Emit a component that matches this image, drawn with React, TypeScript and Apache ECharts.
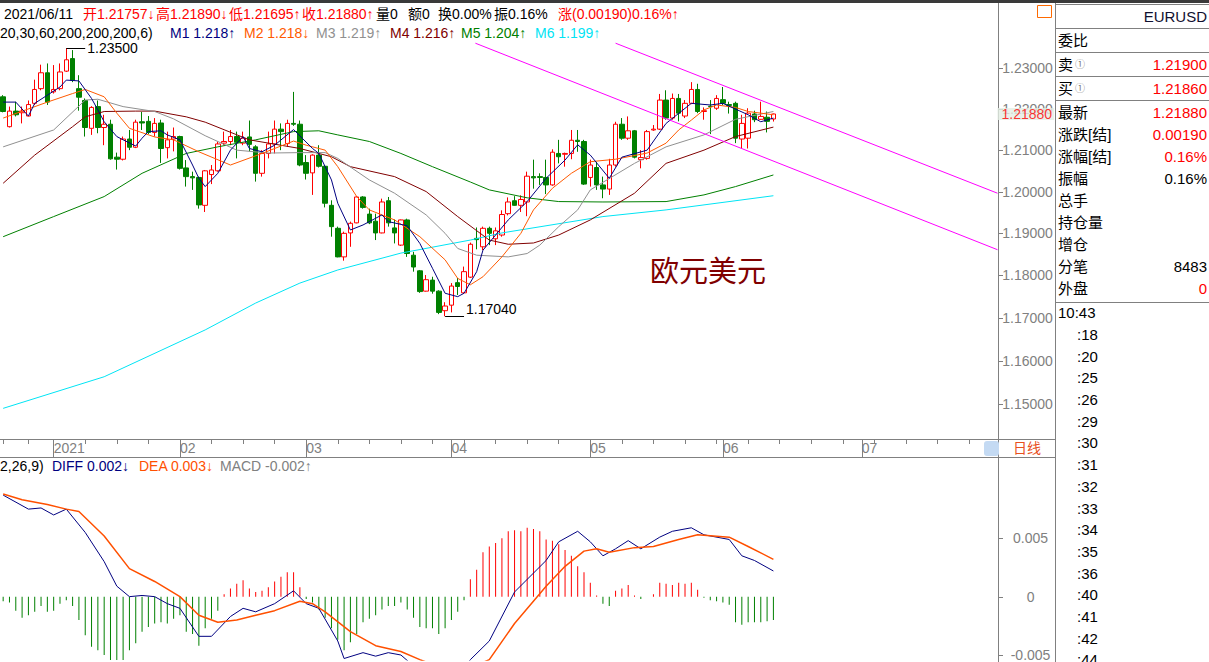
import React, { useEffect, useRef } from 'react';
import * as echarts from 'echarts';

// ---------------- DATA ----------------
// trading days per month (category axis)
const monthDays: [number, number, number[]][] = [
  [2020, 12, [21, 22, 23, 24, 28, 29, 30, 31]],
  [2021, 1, [4, 5, 6, 7, 8, 11, 12, 13, 14, 15, 18, 19, 20, 21, 22, 25, 26, 27, 28, 29]],
  [2021, 2, [1, 2, 3, 4, 5, 8, 9, 10, 11, 12, 15, 16, 17, 18, 19, 22, 23, 24, 25, 26]],
  [2021, 3, [1, 2, 3, 4, 5, 8, 9, 10, 11, 12, 15, 16, 17, 18, 19, 22, 23, 24, 25, 26, 29, 30, 31]],
  [2021, 4, [1, 2, 5, 6, 7, 8, 9, 12, 13, 14, 15, 16, 19, 20, 21, 22, 23, 26, 27, 28, 29, 30]],
  [2021, 5, [3, 4, 5, 6, 7, 10, 11, 12, 13, 14, 17, 18, 19, 20, 21, 24, 25, 26, 27, 28, 31]],
  [2021, 6, [1, 2, 3, 4, 7, 8, 9, 10, 11, 14, 15, 16, 17, 18, 21, 22, 23, 24, 25, 28, 29, 30]],
  [2021, 7, [1, 2, 5, 6, 7, 8, 9, 12, 13, 14, 15, 16, 19, 20, 21, 22, 23, 26, 27, 28, 29, 30]],
];

// [open, close, low, high]
const candles: number[][] = [
  [1.2230, 1.2194, 1.2192, 1.2234], [1.2157, 1.2195, 1.2155, 1.2206], [1.2195, 1.2186, 1.2182, 1.2218],
  [1.2191, 1.2195, 1.2165, 1.2206], [1.2183, 1.2211, 1.2182, 1.2221], [1.2214, 1.2248, 1.2210, 1.2272],
  [1.2250, 1.2289, 1.2246, 1.2309], [1.2289, 1.2217, 1.2210, 1.2312], [1.2242, 1.2248, 1.2238, 1.2308],
  [1.2250, 1.2291, 1.2246, 1.2312], [1.2293, 1.2321, 1.2291, 1.2350], [1.2324, 1.2270, 1.2266, 1.2345],
  [1.2250, 1.2229, 1.2196, 1.2283], [1.2221, 1.2155, 1.2133, 1.2226], [1.2153, 1.2204, 1.2137, 1.2207],
  [1.2206, 1.2155, 1.2141, 1.2221], [1.2155, 1.2163, 1.2112, 1.2186], [1.2163, 1.2079, 1.2077, 1.2174],
  [1.2083, 1.2078, 1.2053, 1.2094], [1.2078, 1.2127, 1.2075, 1.2133], [1.2127, 1.2107, 1.2100, 1.2149],
  [1.2107, 1.2168, 1.2105, 1.2174], [1.2169, 1.2166, 1.2149, 1.2193], [1.2170, 1.2143, 1.2139, 1.2183],
  [1.2143, 1.2165, 1.2133, 1.2178], [1.2166, 1.2104, 1.2069, 1.2174], [1.2106, 1.2125, 1.2080, 1.2145],
  [1.2127, 1.2133, 1.2097, 1.2155], [1.2133, 1.2056, 1.2053, 1.2135], [1.2057, 1.2036, 1.2012, 1.2076],
  [1.2036, 1.2033, 1.2004, 1.2048], [1.2034, 1.1968, 1.1959, 1.2036], [1.1967, 1.2050, 1.1951, 1.2052],
  [1.2041, 1.2052, 1.2018, 1.2064], [1.2050, 1.2115, 1.2048, 1.2121], [1.2117, 1.2121, 1.2112, 1.2145],
  [1.2121, 1.2133, 1.2112, 1.2149], [1.2133, 1.2119, 1.2080, 1.2145], [1.2117, 1.2129, 1.2112, 1.2145],
  [1.2132, 1.2114, 1.2097, 1.2172], [1.2108, 1.2044, 1.2024, 1.2112], [1.2044, 1.2092, 1.2036, 1.2100],
  [1.2092, 1.2115, 1.2080, 1.2145], [1.2115, 1.2151, 1.2092, 1.2172], [1.2151, 1.2145, 1.2100, 1.2165],
  [1.2116, 1.2165, 1.2108, 1.2174], [1.2165, 1.2163, 1.2159, 1.2242], [1.2163, 1.2064, 1.2061, 1.2172],
  [1.2070, 1.2044, 1.2029, 1.2088], [1.2045, 1.2088, 1.1992, 1.2090], [1.2088, 1.2061, 1.2058, 1.2112],
  [1.2061, 1.1972, 1.1962, 1.2064], [1.1967, 1.1916, 1.1892, 1.1979], [1.1912, 1.1844, 1.1843, 1.1916],
  [1.1844, 1.1900, 1.1835, 1.1904], [1.1901, 1.1924, 1.1868, 1.1928], [1.1925, 1.1987, 1.1924, 1.1989],
  [1.1987, 1.1962, 1.1959, 1.1989], [1.1946, 1.1925, 1.1922, 1.1959], [1.1929, 1.1901, 1.1884, 1.1947],
  [1.1901, 1.1975, 1.1900, 1.1983], [1.1978, 1.1925, 1.1916, 1.1987], [1.1913, 1.1901, 1.1876, 1.1933],
  [1.1872, 1.1932, 1.1870, 1.1933], [1.1932, 1.1852, 1.1844, 1.1935], [1.1848, 1.1820, 1.1809, 1.1856],
  [1.1811, 1.1762, 1.1759, 1.1813], [1.1763, 1.1790, 1.1762, 1.1801], [1.1789, 1.1763, 1.1757, 1.1797],
  [1.1763, 1.1713, 1.1709, 1.1765], [1.1717, 1.1728, 1.1704, 1.1737], [1.1730, 1.1775, 1.1713, 1.1782],
  [1.1783, 1.1774, 1.1754, 1.1794], [1.1759, 1.1809, 1.1758, 1.1821], [1.1796, 1.1874, 1.1794, 1.1878],
  [1.1888, 1.1885, 1.1862, 1.1914], [1.1868, 1.1912, 1.1860, 1.1916], [1.1912, 1.1900, 1.1872, 1.1916],
  [1.1887, 1.1906, 1.1872, 1.1914], [1.1896, 1.1945, 1.1892, 1.1955], [1.1947, 1.1975, 1.1943, 1.1986],
  [1.1978, 1.1967, 1.1966, 1.1989], [1.1967, 1.1981, 1.1951, 1.1991], [1.1975, 1.2037, 1.1941, 1.2048],
  [1.2036, 1.2033, 1.2007, 1.2077], [1.2036, 1.2034, 1.2016, 1.2044], [1.2034, 1.2016, 1.1994, 1.2077],
  [1.2016, 1.2095, 1.2014, 1.2102], [1.2092, 1.2084, 1.2068, 1.2125], [1.2090, 1.2092, 1.2060, 1.2094],
  [1.2092, 1.2124, 1.2078, 1.2149], [1.2124, 1.2121, 1.2096, 1.2149], [1.2121, 1.2018, 1.2016, 1.2125],
  [1.2034, 1.2064, 1.2012, 1.2077], [1.2058, 1.2016, 1.2004, 1.2072], [1.2016, 1.2006, 1.1984, 1.2036],
  [1.2006, 1.2064, 1.1992, 1.2079], [1.2064, 1.2163, 1.2060, 1.2169], [1.2163, 1.2129, 1.2125, 1.2178],
  [1.2129, 1.2147, 1.2125, 1.2182], [1.2147, 1.2083, 1.2080, 1.2149], [1.2077, 1.2082, 1.2056, 1.2100],
  [1.2080, 1.2145, 1.2077, 1.2149], [1.2149, 1.2151, 1.2147, 1.2161], [1.2151, 1.2222, 1.2149, 1.2237],
  [1.2222, 1.2178, 1.2174, 1.2246], [1.2178, 1.2226, 1.2174, 1.2238], [1.2226, 1.2190, 1.2170, 1.2237],
  [1.2183, 1.2214, 1.2178, 1.2222], [1.2214, 1.2248, 1.2212, 1.2266], [1.2248, 1.2194, 1.2190, 1.2262],
  [1.2194, 1.2196, 1.2174, 1.2204], [1.2207, 1.2206, 1.2139, 1.2222], [1.2202, 1.2226, 1.2198, 1.2234],
  [1.2223, 1.2214, 1.2210, 1.2254], [1.2211, 1.2209, 1.2189, 1.2218], [1.2214, 1.2129, 1.2117, 1.2218],
  [1.2127, 1.2165, 1.2104, 1.2186], [1.2129, 1.2190, 1.2104, 1.2202], [1.2188, 1.2174, 1.2168, 1.2196],
  [1.2175, 1.2182, 1.2174, 1.2218], [1.2180, 1.2170, 1.2143, 1.2194], [1.21757, 1.21880, 1.21695, 1.21890],
];

// moving averages, read at sampled bars: [barIndex, value]
const ma1 = [[0, 1.2217], [2, 1.2217], [4, 1.2183], [5, 1.2214], [7, 1.2234], [9, 1.2254], [10, 1.2271], [12, 1.2269], [14, 1.2226], [15, 1.2198], [16, 1.2169], [18, 1.2133], [19, 1.2125], [21, 1.2110], [22, 1.2129], [23, 1.2145], [25, 1.2147], [26, 1.2137], [28, 1.2125], [30, 1.2064], [31, 1.2032], [32, 1.2012], [34, 1.2044], [36, 1.2100], [38, 1.2133], [39, 1.2104], [41, 1.2096], [43, 1.2112], [46, 1.2150], [49, 1.2104], [50, 1.2092], [52, 1.2028], [53, 1.1972], [55, 1.1908], [57, 1.1920], [58, 1.1928], [60, 1.1944], [61, 1.1928], [64, 1.1918], [66, 1.1876], [68, 1.1817], [70, 1.1758], [72, 1.1750], [73, 1.1758], [75, 1.1809], [76, 1.1860], [78, 1.1896], [80, 1.1932], [83, 1.1976], [86, 1.2032], [89, 1.2076], [91, 1.2113], [93, 1.2088], [96, 1.2032], [98, 1.2083], [102, 1.2100], [105, 1.2165], [109, 1.2214], [112, 1.2210], [114, 1.2214], [118, 1.2186], [120, 1.2169], [122, 1.2178]];
const ma2 = [[0, 1.2178], [7, 1.2217], [11, 1.2238], [13, 1.2248], [16, 1.2230], [18, 1.2190], [20, 1.2153], [24, 1.2132], [27, 1.2125], [31, 1.2096], [36, 1.2064], [41, 1.2092], [46, 1.2122], [48, 1.2112], [51, 1.2100], [53, 1.2060], [56, 1.1988], [58, 1.1956], [62, 1.1932], [66, 1.1892], [70, 1.1837], [72, 1.1793], [74, 1.1778], [76, 1.1797], [79, 1.1844], [82, 1.1900], [84, 1.1956], [87, 1.2008], [90, 1.2044], [93, 1.2072], [97, 1.2078], [102, 1.2093], [105, 1.2117], [107, 1.2149], [109, 1.2173], [111, 1.2198], [113, 1.2210], [116, 1.2204], [118, 1.2194], [122, 1.2186]];
const ma3 = [[0, 1.2108], [8, 1.2149], [13, 1.2222], [15, 1.2224], [19, 1.2206], [24, 1.2194], [27, 1.2176], [32, 1.2135], [37, 1.2100], [42, 1.2093], [47, 1.2094], [51, 1.2094], [53, 1.2080], [58, 1.2028], [62, 1.1996], [67, 1.1944], [70, 1.1900], [72, 1.1864], [75, 1.1848], [80, 1.1844], [83, 1.1852], [85, 1.1872], [88, 1.1916], [91, 1.1956], [93, 1.2004], [100, 1.2068], [105, 1.2108], [111, 1.2137], [116, 1.2175], [122, 1.2194]];
const ma4 = [[0, 1.2020], [5, 1.2088], [11, 1.2157], [13, 1.2181], [16, 1.2194], [21, 1.2195], [24, 1.2195], [29, 1.2181], [32, 1.2168], [39, 1.2125], [47, 1.2104], [52, 1.2084], [55, 1.2060], [62, 1.2036], [67, 1.2000], [72, 1.1940], [77, 1.1884], [80, 1.1874], [84, 1.1877], [88, 1.1896], [93, 1.1932], [100, 1.1996], [105, 1.2068], [111, 1.2100], [116, 1.2133], [122, 1.2156]];
const ma5 = [[0, 1.1892], [8, 1.1940], [16, 1.1988], [22, 1.2044], [29, 1.2092], [34, 1.2108], [40, 1.2125], [46, 1.2145], [50, 1.2147], [53, 1.2137], [58, 1.2121], [63, 1.2092], [68, 1.2060], [74, 1.2023], [77, 1.2004], [83, 1.1985], [88, 1.1976], [95, 1.1975], [105, 1.1976], [111, 1.1992], [116, 1.2012], [122, 1.2040]];
const ma6 = [[0, 1.1490], [16, 1.1563], [32, 1.1672], [40, 1.1735], [47, 1.1782], [53, 1.1813], [63, 1.1853], [74, 1.1884], [79, 1.1901], [95, 1.1940], [105, 1.1956], [122, 1.1990]];

// trend channel lines: [barIndex, price]
const trendUpper = [[97.0, 1.2362], [157.5, 1.1996]];
const trendLower = [[74.8, 1.2362], [157.5, 1.1861]];

const highMark = { index: 10, value: 1.235, text: '1.23500' };
const lowMark = { index: 70, value: 1.1704, text: '1.17040' };
const lastPrice = 1.2188;

const priceTicks = [1.15, 1.16, 1.17, 1.18, 1.19, 1.2, 1.21, 1.22, 1.23];
const macdTicks = [-0.005, 0, 0.005];

const macdBars = [
  -0.0004, -0.0005, -0.0012, -0.0018, -0.0016, -0.0013, -0.0008, -0.0013, -0.0012, -0.0006,
  -0.0003, -0.0008, -0.0020, -0.0033, -0.0043, -0.0046, -0.0050, -0.0056, -0.0058, -0.0055,
  -0.0046, -0.0040, -0.0030, -0.0026, -0.0023, -0.0022, -0.0023, -0.0019, -0.0016, -0.0030,
  -0.0032, -0.0042, -0.0027, -0.0019, -0.0012, 0.0002, 0.0007, 0.0011, 0.0014, 0.0007,
  0.0004, 0.0005, 0.0008, 0.0013, 0.0017, 0.0021, 0.0021, 0.0008, -0.0002, -0.0005,
  -0.0011, -0.0018, -0.0027, -0.0037, -0.0046, -0.0039, -0.0032, -0.0022, -0.0019, -0.0016,
  -0.0011, -0.0008, -0.0008, -0.0005, -0.0011, -0.0018, -0.0026, -0.0027, -0.0027, -0.0032,
  -0.0027, -0.0020, -0.0013, -0.0003, 0.0015, 0.0023, 0.0038, 0.0043, 0.0046, 0.0050,
  0.0056, 0.0057, 0.0056, 0.0059, 0.0058, 0.0056, 0.0049, 0.0048, 0.0045, 0.0040,
  0.0035, 0.0026, 0.0021, 0.0012, 0.0001, -0.0006, -0.0008, 0.0005, 0.0007, 0.0010,
  0.0001, -0.0002, 0.0000, 0.0002, 0.0012, 0.0011, 0.0010, 0.0012, 0.0011, 0.0012,
  0.0006, -0.0001, -0.0003, -0.0004, -0.0005, -0.0007, -0.0022, -0.0024, -0.0022, -0.0022,
  -0.0022, -0.0021, -0.0020,
];
const diffPts = [[0, 0.0087], [4, 0.0075], [6, 0.0076], [8, 0.0070], [10, 0.0075], [13, 0.0055], [16, 0.0030], [18, 0.0009], [20, 0.0000], [22, 0.0001], [24, 0.0000], [26, -0.0006], [28, -0.0010], [31, -0.0034], [33, -0.0034], [36, -0.0017], [38, -0.0010], [40, -0.0013], [43, -0.0006], [46, 0.0005], [48, -0.0006], [50, -0.0010], [53, -0.0038], [54, -0.0053], [57, -0.0048], [59, -0.0051], [61, -0.0048], [63, -0.0050], [66, -0.0064], [69, -0.0076], [72, -0.0068], [74, -0.0054], [77, -0.0038], [81, 0.0004], [86, 0.0031], [88, 0.0047], [91, 0.0056], [93, 0.0047], [95, 0.0035], [97, 0.0041], [99, 0.0048], [101, 0.0041], [104, 0.0051], [106, 0.0056], [109, 0.0059], [111, 0.0053], [115, 0.0049], [117, 0.0035], [119, 0.0031], [122, 0.0022]];
const deaPts = [[0, 0.0088], [3, 0.0083], [7, 0.0079], [10, 0.0075], [12, 0.0073], [16, 0.0052], [20, 0.0024], [24, 0.0013], [28, 0.0000], [31, -0.0016], [34, -0.0022], [37, -0.0020], [40, -0.0016], [43, -0.0012], [47, -0.0004], [49, -0.0006], [51, -0.0013], [55, -0.0030], [59, -0.0042], [63, -0.0047], [66, -0.0054], [69, -0.0060], [72, -0.0063], [74, -0.0061], [77, -0.0054], [81, -0.0023], [86, 0.0009], [89, 0.0026], [92, 0.0039], [94, 0.0041], [96, 0.0038], [100, 0.0042], [103, 0.0043], [107, 0.0049], [110, 0.0053], [115, 0.0051], [118, 0.0043], [122, 0.0032]];

// header / panel texts
const header1 = ['2021/06/11', '开1.21757↓', '高1.21890↓', '低1.21695↑', '收1.21880↑', '量0', '额0', '换0.00%', '振0.16%', '涨(0.00190)0.16%↑'];
const header2 = ['20,30,60,200,200,200,6)', 'M1 1.218↑', 'M2 1.218↓', 'M3 1.219↑', 'M4 1.216↑', 'M5 1.204↑', 'M6 1.199↑'];
const macdHeader = ['2,26,9)', 'DIFF 0.002↓', 'DEA 0.003↓', 'MACD -0.002↑'];
const symbolName = 'EURUSD';
const panelLabels = ['委比', '卖', '买', '最新', '涨跌[结]', '涨幅[结]', '振幅', '总手', '持仓量', '增仓', '分笔', '外盘'];
const panelValues = ['', '1.21900', '1.21860', '1.21880', '0.00190', '0.16%', '0.16%', '', '', '', '8483', '0'];
const tickTimes = ['10:43', ':18', ':20', ':25', ':26', ':29', ':30', ':31', ':32', ':33', ':34', ':35', ':36', ':40', ':41', ':42', ':44'];
const chartTitle = '欧元美元';
const periodLabel = '日线';

// ---------------- LAYOUT / STYLE ----------------
const FONT = '"Liberation Sans", Arial, "Noto Sans CJK SC", sans-serif';
const RED = '#ff0000';
const GRID_LEFT = -4.17;
const GRID_W = 1001.7;
const header1X = [4, 83, 156, 229, 302, 376, 408, 438, 494, 558];
const header1C = ['#000', RED, RED, RED, RED, '#000', '#000', '#000', '#000', RED];
const header2X = [0, 170, 244, 316, 390, 461, 535];
const maColors = ['#000080', '#ff5a00', '#909090', '#800000', '#008000', '#00e4f4'];
const header2C = ['#000', ...maColors];
const macdHeaderX = [0, 52, 139, 220];
const macdHeaderC = ['#000', '#000080', '#ff5000', '#808080'];
const panelY = [40, 64, 88, 112, 134, 156, 178, 200, 222, 244, 266, 288];
const panelValueC = ['#000', RED, RED, RED, RED, RED, '#000', '#000', '#000', '#000', '#000', RED];

function txt(x: number, y: number, text: string, fill: string, size = 14, align = 'left') {
  return {
    type: 'text', x, y, silent: true, z: 10,
    style: {
      text, fill, font: `${size}px ${FONT}`,
      textAlign: align, align, textVerticalAlign: 'middle', verticalAlign: 'middle',
    },
  };
}
function hline(x1: number, x2: number, y: number, color = '#808080') {
  return { type: 'line', silent: true, z: 5, shape: { x1, y1: y, x2, y2: y }, style: { stroke: color, lineWidth: 1 } };
}
function vline(x: number, y1: number, y2: number, color = '#808080') {
  return { type: 'line', silent: true, z: 5, shape: { x1: x, y1, x2: x, y2 }, style: { stroke: color, lineWidth: 1 } };
}

function buildOption() {
  const categories: string[] = [];
  const monthStart = new Map<number, string>();
  const mondays = new Set<number>();
  monthDays.forEach(([y, m, days]) => {
    days.forEach((d, k) => {
      const idx = categories.length;
      if (k === 0 && idx > 0) monthStart.set(idx, m === 1 ? String(y) : String(m).padStart(2, '0'));
      if (new Date(y, m - 1, d).getDay() === 1) mondays.add(idx);
      categories.push(`${y}/${String(m).padStart(2, '0')}/${String(d).padStart(2, '0')}`);
    });
  });

  const graphics: any[] = [];
  graphics.push({ type: 'rect', silent: true, z: 5, shape: { x: 0, y: 0, width: 1209, height: 3 }, style: { fill: '#3a3a3a' } });
  graphics.push(hline(0, 1055, 439.5));
  graphics.push(hline(0, 1055, 457.5));
  graphics.push(vline(998.5, 3, 662));
  graphics.push(vline(1055.5, 3, 662));
  [4.5, 28.5, 52.5, 76.5, 100.5, 302.5].forEach((y) => graphics.push(hline(1055, 1209, y)));
  graphics.push({ type: 'rect', silent: true, z: 6, shape: { x: 984, y: 441, width: 15, height: 15, r: 3 }, style: { fill: '#c4daf3' } });
  graphics.push(txt(1013, 448, periodLabel, '#e8501e', 14));
  graphics.push({ type: 'rect', silent: true, z: 6, shape: { x: 1037.5, y: 5.5, width: 14, height: 12 }, style: { fill: '#fff', stroke: '#ff6a00', lineWidth: 1 } });

  header1.forEach((t, i) => graphics.push(txt(header1X[i], 14, t, header1C[i], 14)));
  header2.forEach((t, i) => graphics.push(txt(header2X[i], 33, t, header2C[i], 14)));
  macdHeader.forEach((t, i) => graphics.push(txt(macdHeaderX[i], 466, t, macdHeaderC[i], 14)));

  graphics.push(txt(1207, 16, symbolName, '#101030', 15, 'right'));
  panelLabels.forEach((t, i) => {
    graphics.push(txt(1058, panelY[i], t, '#000', 15));
    if (t === '卖' || t === '买') graphics.push(txt(1075, panelY[i], '①', '#777', 10));
    if (panelValues[i]) graphics.push(txt(1207, panelY[i], panelValues[i], panelValueC[i], 15, 'right'));
  });
  tickTimes.forEach((t, i) => graphics.push(txt(i === 0 ? 1058 : 1077, 312.7 + i * 21.7, t, '#000', 15)));
  graphics.push(txt(650, 272, chartTitle, '#800000', 29));
  graphics.forEach((g, i) => { g.id = 'g' + i; });

  const axisLabelBase = { color: '#808080', fontSize: 14, fontFamily: FONT };

  return {
    animation: false,
    backgroundColor: '#ffffff',
    grid: [
      { left: GRID_LEFT, top: 42, width: GRID_W, height: 398 },
      { left: GRID_LEFT, top: 475, width: GRID_W, height: 187 },
    ],
    xAxis: [
      {
        type: 'category', gridIndex: 0, data: categories, boundaryGap: true, position: 'bottom',
        axisLine: { show: false, onZero: false },
        axisTick: { show: true, alignWithLabel: true, length: 4, interval: (i: number) => mondays.has(i) && !monthStart.has(i), lineStyle: { color: '#808080' } },
        axisLabel: { ...axisLabelBase, interval: (i: number) => monthStart.has(i), formatter: (_v: string, i: number) => monthStart.get(i) ?? '', align: 'left', margin: 1 },
        splitLine: { show: false },
      },
      {
        type: 'category', gridIndex: 0, data: categories, boundaryGap: true, position: 'bottom',
        axisLine: { show: false, onZero: false }, axisLabel: { show: false }, splitLine: { show: false },
        axisTick: { show: true, alignWithLabel: true, length: 17, interval: (i: number) => monthStart.has(i), lineStyle: { color: '#808080' } },
      },
      { type: 'value', gridIndex: 0, min: -0.5, max: 157.5, show: false, position: 'bottom', axisLine: { onZero: false } },
      { type: 'category', gridIndex: 1, data: categories, boundaryGap: true, show: false, position: 'bottom', axisLine: { onZero: false } },
      { type: 'value', gridIndex: 1, min: -0.5, max: 157.5, show: false, position: 'bottom', axisLine: { onZero: false } },
    ],
    yAxis: [
      {
        type: 'log', logBase: 10, gridIndex: 0, position: 'right', min: 1.14174, max: 1.2365,
        axisLine: { show: false, onZero: false }, splitLine: { show: false }, minorTick: { show: false }, minorSplitLine: { show: false },
        axisTick: { show: false },
        axisLabel: { ...axisLabelBase, customValues: priceTicks, formatter: (v: number) => Number(v).toFixed(5), margin: 30, align: 'center' },
      },
      {
        type: 'value', gridIndex: 1, position: 'right', min: -0.005424, max: 0.010424,
        axisLine: { show: false, onZero: false }, splitLine: { show: false },
        axisTick: { show: false },
        axisLabel: { ...axisLabelBase, customValues: macdTicks, formatter: (v: number) => (Math.abs(v) < 1e-9 ? '0' : Number(v).toFixed(3)), margin: 33, align: 'center' },
      },
    ],
    graphic: graphics,
    series: [
      ...[ma6, ma5, ma4, ma3, ma2, ma1].map((d, k) => ({
        type: 'line', xAxisIndex: 2, yAxisIndex: 0, data: d, symbol: 'none', silent: true, z: 3,
        lineStyle: { color: maColors[5 - k], width: 1 },
      })),
      {
        type: 'candlestick', xAxisIndex: 0, yAxisIndex: 0, data: candles, barWidth: 5, z: 2,
        itemStyle: { color: '#ffffff', color0: '#008000', borderColor: '#ff0000', borderColor0: '#008000', borderWidth: 1 },
        markLine: {
          silent: true, symbol: ['none', 'none'], animation: false, z: 20,
          data: [
            [{ coord: [highMark.index, highMark.value], lineStyle: { color: '#000', width: 1, type: 'solid' }, label: { show: false } }, { coord: [highMark.index + 3, highMark.value] }],
            [{ coord: [lowMark.index, lowMark.value], lineStyle: { color: '#000', width: 1, type: 'solid' }, label: { show: false } }, { coord: [lowMark.index + 3, lowMark.value] }],
          ],
        },
        markPoint: {
          silent: true, symbol: 'circle', symbolSize: 0, animation: false, z: 20,
          data: [
            { coord: [highMark.index + 3, highMark.value], label: { show: true, position: 'right', distance: 2, formatter: highMark.text, color: '#000', fontSize: 14, fontFamily: FONT } },
            { coord: [lowMark.index + 3, lowMark.value], label: { show: true, position: 'right', distance: 2, formatter: lowMark.text, color: '#000', fontSize: 14, fontFamily: FONT, offset: [0, -7] } },
          ],
        },
      },
      {
        // last-price tag on the price axis
        type: 'scatter', xAxisIndex: 2, yAxisIndex: 0, data: [[157.5, lastPrice]], symbolSize: 0, silent: true, z: 30, clip: false,
        label: {
          show: true, position: 'right', distance: 0, formatter: lastPrice.toFixed(5), color: RED,
          backgroundColor: '#e4eee4', padding: [0, 2, 0, 4], lineHeight: 12, fontSize: 14, fontFamily: FONT,
        },
      },
      {
        type: 'line', xAxisIndex: 2, yAxisIndex: 0, data: trendUpper, symbol: 'none', silent: true, z: 4,
        lineStyle: { color: '#ff00ff', width: 1 },
      },
      {
        type: 'line', xAxisIndex: 2, yAxisIndex: 0, data: trendLower, symbol: 'none', silent: true, z: 4,
        lineStyle: { color: '#ff00ff', width: 1 },
      },
      {
        type: 'bar', xAxisIndex: 3, yAxisIndex: 1, barWidth: 1, silent: true,
        data: macdBars.map((v) => ({ value: v, itemStyle: { color: v >= 0 ? '#ff0000' : '#008000' } })),
      },
      {
        type: 'line', xAxisIndex: 4, yAxisIndex: 1, data: diffPts, symbol: 'none', silent: true, z: 3,
        lineStyle: { color: '#000080', width: 1 },
      },
      {
        type: 'line', xAxisIndex: 4, yAxisIndex: 1, data: deaPts, symbol: 'none', silent: true, z: 3,
        lineStyle: { color: '#ff5000', width: 1.5 },
      },
    ],
  };
}

export default function App() {
  const ref = useRef<HTMLDivElement>(null);
  useEffect(() => {
    if (!ref.current) return;
    const chart = echarts.init(ref.current, null, { renderer: 'svg' });
    chart.setOption(buildOption() as any);
    // axis tick marks on the price / MACD axes, placed through the axes' own scales
    const ticks: any[] = [];
    priceTicks.forEach((v, i) => {
      const y = chart.convertToPixel({ yAxisIndex: 0 }, v) as number;
      ticks.push({ ...hline(999, 1003, Math.round(y) + 0.5), id: 'pt' + i });
    });
    macdTicks.forEach((v, i) => {
      const y = chart.convertToPixel({ yAxisIndex: 1 }, v) as number;
      ticks.push({ ...hline(999, 1003, Math.round(y) + 0.5), id: 'mt' + i });
    });
    chart.setOption({ graphic: ticks });
    return () => chart.dispose();
  }, []);
  return (
    <div
      ref={ref}
      style={{ position: 'fixed', left: 0, top: 0, width: 1209, height: 662, background: '#fff' }}
    />
  );
}
